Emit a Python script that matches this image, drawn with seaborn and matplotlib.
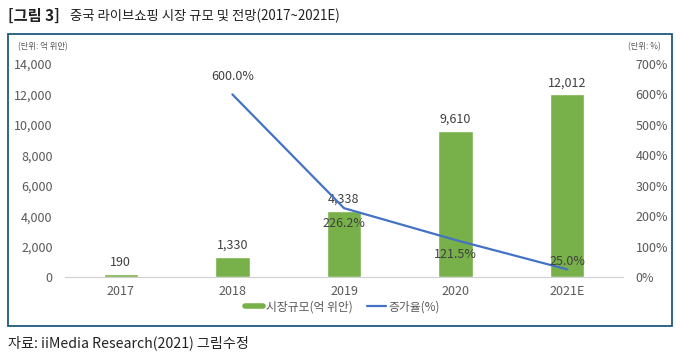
import matplotlib
matplotlib.use('Agg')
import matplotlib.pyplot as plt
import seaborn as sns
import pandas as pd
from matplotlib.patches import Rectangle
from matplotlib.lines import Line2D
from matplotlib.ticker import FuncFormatter

sns.set_style('white')
plt.rcParams['font.family'] = ['Noto Sans CJK KR', 'DejaVu Sans']

years = ['2017', '2018', '2019', '2020', '2021E']
market = [190, 1330, 4338, 9610, 12012]
growth_years = ['2018', '2019', '2020', '2021E']
growth = [600.0, 226.2, 121.5, 25.0]
# label offsets in points (above/below the line point)
growth_offsets = [8, -6, -6, 1]

bar_color = '#78B04A'
line_color = '#4472C4'
tick_color = '#595959'

df = pd.DataFrame({'year': years, 'market': market})

fig = plt.figure(figsize=(6.76, 3.58), dpi=100)
ax = fig.add_axes([65 / 676, 1 - 277 / 358, 558 / 676, 213 / 358])

sns.barplot(data=df, x='year', y='market', color=bar_color, width=0.31,
            ax=ax, saturation=1)
ax.set_ylim(0, 14000)
ax.set_xlim(-0.5, 4.5)
ax.set_yticks(range(0, 14001, 2000))
ax.yaxis.set_major_formatter(FuncFormatter(lambda v, p: f'{int(v):,}'))
ax.set_xlabel('')
ax.set_ylabel('')
for s in ['top', 'right', 'left']:
    ax.spines[s].set_visible(False)
ax.spines['bottom'].set_color('#D0D0D0')
ax.tick_params(axis='both', length=0, labelsize=9, colors=tick_color, pad=6)
ax.tick_params(axis='y', pad=9)

for i, v in enumerate(market):
    ax.annotate(f'{v:,}', (i, v), xytext=(0, 3.5), textcoords='offset points',
                ha='center', va='bottom', fontsize=9, color='#404040')

ax2 = ax.twinx()
gx = [years.index(y) for y in growth_years]
sns.lineplot(x=gx, y=growth, ax=ax2, color=line_color, linewidth=1.6)
ax2.set_ylim(0, 700)
ax2.set_xlim(-0.5, 4.5)
ax2.set_yticks(range(0, 701, 100))
ax2.yaxis.set_major_formatter(FuncFormatter(lambda v, p: f'{int(v)}%'))
ax2.tick_params(axis='y', length=0, labelsize=9, colors=tick_color, pad=9)
for s in ['top', 'right', 'left', 'bottom']:
    ax2.spines[s].set_visible(False)
for x, v, off in zip(gx, growth, growth_offsets):
    ax2.annotate(f'{v:.1f}%', (x, v), xytext=(0, off), textcoords='offset points',
                 ha='center', va='bottom' if off > 0 else 'top',
                 fontsize=9, color='#404040')

# unit labels
fig.text(18 / 676, 1 - 47 / 358, '(단위: 억 위안)', fontsize=6, color=tick_color, va='center')
fig.text(628 / 676, 1 - 47 / 358, '(단위: %)', fontsize=6, color=tick_color, va='center')

# legend
handles = [Line2D([], [], color=bar_color, lw=4), Line2D([], [], color=line_color, lw=1.6)]
fig.legend(handles, ['시장규모(억 위안)', '증가율(%)'], loc='center',
           bbox_to_anchor=(342 / 676, 1 - 307 / 358), ncol=2, frameon=False,
           fontsize=8.5, handlelength=1.6, handletextpad=0.2, columnspacing=1.2,
           labelcolor=tick_color)

# frame
fig.patches.append(Rectangle((8 / 676, 1 - 326 / 358), 664 / 676, 292 / 358,
                             transform=fig.transFigure, fill=False,
                             edgecolor='#1F5A78', linewidth=1.3))

fig.text(8 / 676, 1 - 16 / 358, '[그림 3]', fontsize=11, fontweight='bold',
         color='#222222', va='center')
fig.text(70 / 676, 1 - 16 / 358, '중국 라이브쇼핑 시장 규모 및 전망(2017~2021E)',
         fontsize=9.6, color='#222222', va='center')
fig.text(8 / 676, 1 - 343 / 358, '자료: iiMedia Research(2021) 그림수정',
         fontsize=10.2, color='#222222', va='center')

fig.savefig('out.png', dpi=100)
